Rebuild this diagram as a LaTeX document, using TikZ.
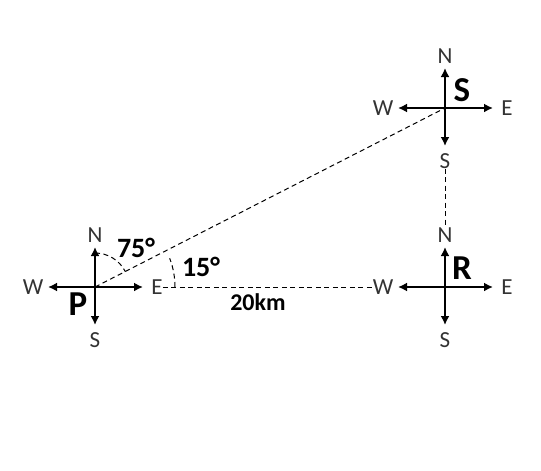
\documentclass[tikz,border=0pt]{standalone}
\usepackage{fontspec}
\setmainfont{Carlito}
\usetikzlibrary{calc, arrows.meta}

\tikzset{
	dir/.style = {font = \fontsize{23}{23}\selectfont, text = black!80, inner sep = 0pt},
	bigname/.style = {font = \fontsize{35}{35}\selectfont\bfseries},
	angletext/.style = {font = \fontsize{28}{28}\selectfont\bfseries},
	guide/.style = {dashed, dash pattern = on 5pt off 3.5pt, line width = 1pt}
}

\begin{document}
\begin{tikzpicture}[> = {Latex[length = 9pt, width = 9pt]}, x = 1pt, y = -1pt]

	\useasboundingbox (0, 0) rectangle (541, 471);

	% The three compasses

	\foreach \c/\x/\y in {P/95/287, S/445/108, R/445/287} {
		\coordinate (\c) at (\x, \y);
		\begin{scope}[->, line width = 2.6pt, shift = {(\c)}]
			\draw (0, 0) -- (0, -40);
			\draw (0, 0) -- (0, 38);
			\draw (0, 0) -- (-47, 0);
			\draw (0, 0) -- (48, 0);
		\end{scope}
		\node [dir] (\c-N) at ($(\c) + (0, -52)$) {N};
		\node [dir] (\c-S) at ($(\c) + (0, 53)$) {S};
		\node [dir] (\c-W) at ($(\c) + (-62, 0)$) {W};
		\node [dir] (\c-E) at ($(\c) + (62, 0)$) {E};
	}

	% Names of the points

	\node [bigname] (name-P) at (78, 304) {P};
	\node [bigname] (name-S) at (462, 90) {S};
	\node [bigname] (name-R) at (462, 268) {R};

	% Dashed guide lines

	\draw [guide] (P) -- (S);
	\draw [guide] (P-E) -- (R-W);
	\draw [guide] (S-S) -- (R-N);

	% Angle indicators

	\draw [guide] ($(P) + (0, -34)$) arc (-90 : -27 : 34);
	\draw [guide] ($(P) + (80, 0)$) arc (0 : -21 : 80);
	\node [angletext] (a75) at (136, 248) {75°};
	\node [angletext] (a15) at (201, 267) {15°};

	% Distance

	\node [angletext, font = \fontsize{24}{24}\selectfont\bfseries] (dist) at (258, 302) {20km};

\end{tikzpicture}
\end{document}
